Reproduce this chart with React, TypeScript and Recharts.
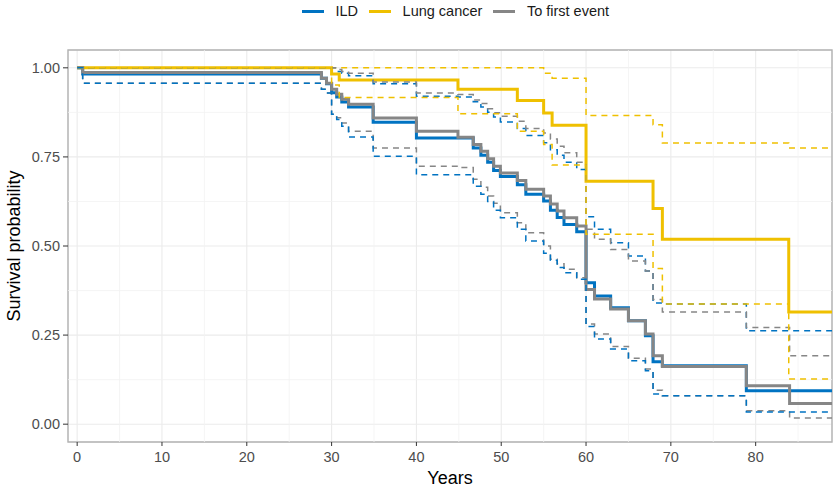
import {
  CartesianGrid,
  Line,
  LineChart,
  ReferenceArea,
  ReferenceLine,
  XAxis,
  YAxis,
} from "recharts"

const FONT = "'Liberation Sans', Arial, Helvetica, sans-serif"

const xTicks = [0, 10, 20, 30, 40, 50, 60, 70, 80]
const yTicks = [0, 0.25, 0.5, 0.75, 1]
const xMinor = [5, 15, 25, 35, 45, 55, 65, 75, 85]
const yMinor = [0.125, 0.375, 0.625, 0.875]
const xDomain = [-1.08, 89.0]
const yDomain = [-0.05, 1.05]

// ILD and "to first event" share the same event times
const eventTime = [
  0, 0.65, 28.8, 29.4, 30.0, 30.6, 31.2, 32.0, 34.9, 40.0,
  44.9, 46.7, 47.6, 48.4, 49.1, 49.9, 51.9, 52.9, 55.0, 55.8,
  56.6, 57.4, 58.9, 60.0, 61.0, 62.9, 65.0, 67.0, 67.9, 69.0,
  78.9, 84.0, 89.0,
]

const ildSurv = [
  1, 0.983, 0.971, 0.955, 0.93, 0.918, 0.904, 0.89, 0.847, 0.803,
  0.803, 0.775, 0.755, 0.735, 0.712, 0.695, 0.672, 0.645, 0.626, 0.6,
  0.58, 0.56, 0.54, 0.397, 0.36, 0.327, 0.29, 0.248, 0.175, 0.164,
  0.094, 0.094, 0.094,
]
const ildUpper = [
  1, 1, 1, 1, 1, 0.99, 0.985, 0.978, 0.955, 0.92,
  0.918, 0.905, 0.89, 0.875, 0.862, 0.848, 0.83, 0.81, 0.79, 0.77,
  0.755, 0.735, 0.715, 0.582, 0.547, 0.509, 0.472, 0.43, 0.34, 0.337,
  0.262, 0.262, 0.262,
]
const ildLower = [
  1, 0.957, 0.94, 0.929, 0.87, 0.855, 0.836, 0.806, 0.752, 0.7,
  0.7, 0.668, 0.645, 0.625, 0.6, 0.579, 0.547, 0.514, 0.48, 0.46,
  0.44, 0.425, 0.407, 0.274, 0.239, 0.211, 0.178, 0.15, 0.085, 0.08,
  0.034, 0.034, 0.034,
]

const firstSurv = [
  1, 0.987, 0.971, 0.957, 0.94, 0.926, 0.912, 0.898, 0.859, 0.822,
  0.805, 0.785, 0.766, 0.745, 0.724, 0.705, 0.684, 0.659, 0.64, 0.618,
  0.598, 0.579, 0.556, 0.378, 0.351, 0.323, 0.29, 0.253, 0.192, 0.162,
  0.108, 0.058, 0.058,
]
const firstUpper = [
  1, 1, 1, 1, 1, 0.995, 0.99, 0.985, 0.96, 0.929,
  0.925, 0.91, 0.9, 0.885, 0.874, 0.864, 0.85, 0.83, 0.817, 0.8,
  0.78, 0.762, 0.735, 0.547, 0.519, 0.49, 0.458, 0.43, 0.35, 0.315,
  0.271, 0.192, 0.192,
]
const firstLower = [
  1, 0.957, 0.94, 0.929, 0.87, 0.86, 0.845, 0.822, 0.775, 0.724,
  0.72, 0.687, 0.665, 0.64, 0.62, 0.593, 0.565, 0.537, 0.5, 0.463,
  0.45, 0.435, 0.411, 0.281, 0.253, 0.218, 0.185, 0.155, 0.095, 0.08,
  0.038, 0.017, 0.017,
]

const lungTime = [0, 30.0, 30.9, 44.9, 51.9, 55.0, 56.0, 60.0, 67.9, 69.0, 83.9, 89.0]
const lungSurv = [1, 0.983, 0.966, 0.94, 0.908, 0.873, 0.839, 0.682, 0.605, 0.519, 0.315, 0.315]
const lungUpper = [1, 1, 1, 1, 1, 0.985, 0.971, 0.866, 0.84, 0.789, 0.775, 0.775]
const lungLower = [1, 0.952, 0.917, 0.871, 0.822, 0.785, 0.727, 0.533, 0.437, 0.337, 0.127, 0.127]

const groups = [
  { name: "ILD", color: "#0073C2", time: eventTime, surv: ildSurv, upper: ildUpper, lower: ildLower },
  { name: "Lung cancer", color: "#EFC000", time: lungTime, surv: lungSurv, upper: lungUpper, lower: lungLower },
  { name: "To first event", color: "#868686", time: eventTime, surv: firstSurv, upper: firstUpper, lower: firstLower },
]

const toPoints = (time: number[], vals: number[]) =>
  time.map((t, i) => ({ t, v: vals[i] }))

function dashed(key: string, color: string, time: number[], vals: number[]) {
  return (
    <Line
      key={key}
      data={toPoints(time, vals)}
      dataKey="v"
      type="stepAfter"
      stroke={color}
      strokeWidth={1.5}
      strokeDasharray="6 5"
      dot={false}
      activeDot={false}
      isAnimationActive={false}
    />
  )
}

function App() {
  return (
    <div style={{ position: "absolute", left: 0, top: 0, width: 833, height: 488, fontFamily: FONT }}>
      <div
        style={{
          position: "absolute",
          left: 302,
          top: 3,
          display: "flex",
          alignItems: "center",
          fontSize: 14.5,
          lineHeight: "17px",
          color: "#1a1a1a",
        }}
      >
        {groups.map((g) => (
          <div key={g.name} style={{ display: "flex", alignItems: "center", marginRight: 11 }}>
            <span style={{ display: "inline-block", width: 21.5, height: 3, background: g.color, marginRight: 12 }} />
            <span>{g.name}</span>
          </div>
        ))}
      </div>
      <LineChart width={833} height={488} margin={{ top: 50, right: 1, bottom: 0, left: 0 }}>
        <CartesianGrid stroke="#ebebeb" strokeWidth={1.1} />
        {xMinor.map((x) => (
          <ReferenceLine key={"vx" + x} x={x} stroke="#f2f2f2" strokeWidth={0.8} />
        ))}
        {yMinor.map((y) => (
          <ReferenceLine key={"hy" + y} y={y} stroke="#f2f2f2" strokeWidth={0.8} />
        ))}
        <XAxis
          type="number"
          dataKey="t"
          domain={xDomain}
          allowDataOverflow
          ticks={xTicks}
          height={46}
          axisLine={false}
          tickSize={4}
          tickMargin={6}
          tickLine={{ stroke: "#333333" }}
          tick={{ fill: "#4d4d4d", fontSize: 14.5, fontFamily: FONT }}
          label={{ value: "Years", position: "insideBottom", offset: 4, fill: "#000", fontSize: 18, fontFamily: FONT }}
        />
        <YAxis
          type="number"
          domain={yDomain}
          allowDataOverflow
          ticks={yTicks}
          width={68}
          axisLine={false}
          tickSize={5}
          tickMargin={3}
          tickLine={{ stroke: "#333333" }}
          tick={{ fill: "#4d4d4d", fontSize: 14.5, fontFamily: FONT }}
          tickFormatter={(v: number) => v.toFixed(2)}
          label={{
            value: "Survival probability",
            angle: -90,
            position: "insideLeft",
            offset: 14,
            fill: "#000",
            fontSize: 18,
            fontFamily: FONT,
            style: { textAnchor: "middle" },
          }}
        />
        {groups.map((g) => (
          <Line
            key={g.name}
            data={toPoints(g.time, g.surv)}
            dataKey="v"
            type="stepAfter"
            stroke={g.color}
            strokeWidth={3}
            dot={false}
            activeDot={false}
            isAnimationActive={false}
          />
        ))}
        {groups.map((g) => dashed(g.name + "-up", g.color, g.time, g.upper))}
        {[...groups].reverse().map((g) => dashed(g.name + "-lo", g.color, g.time, g.lower))}
        <ReferenceArea
          x1={xDomain[0]}
          x2={xDomain[1]}
          y1={yDomain[0]}
          y2={yDomain[1]}
          fill="none"
          fillOpacity={0}
          stroke="#b3b3b3"
          strokeWidth={1.4}
        />
      </LineChart>
    </div>
  )
}

export default App
